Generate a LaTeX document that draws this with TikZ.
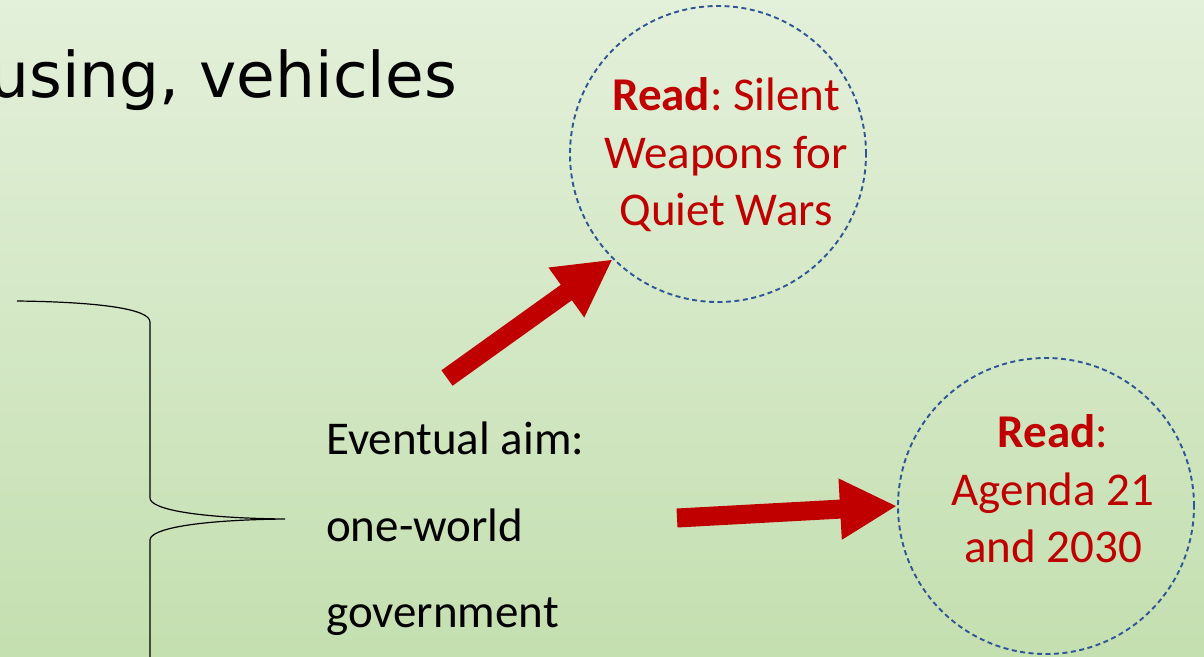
\documentclass[tikz,border=0pt]{standalone}
\usepackage{fontspec}
\usetikzlibrary{arrows.meta}
\newfontfamily\carlito{Carlito}
\newfontfamily\dejavu{DejaVu Sans}
\definecolor{bgtop}{HTML}{E3F0DA}
\definecolor{bgbot}{HTML}{C4DFB0}
\definecolor{darkred}{HTML}{C00000}
\definecolor{dashblue}{HTML}{2F5597}
\frenchspacing
\tikzset{
  readcircle/.style={circle, draw=dashblue, line width=1.9pt, dash pattern=on 5pt off 3.5pt, minimum size=296pt, inner sep=0pt},
  readtext/.style={text=darkred, font=\carlito\fontsize{47}{57.5}\selectfont, align=center, inner sep=0pt},
  bodytext/.style={font=\carlito\fontsize{47}{86.5}\selectfont, align=left, inner sep=0pt},
  blockarrow/.style={draw=darkred, line width=19pt, -{Triangle[width=57pt,length=57pt]}},
  bracestyle/.style={draw=black, line width=1.2pt}
}
\begin{document}
\begin{tikzpicture}[x=1pt,y=-1pt]
\useasboundingbox (0,0) rectangle (1204,656);
\shade[top color=bgtop, bottom color=bgbot] (0,0) rectangle (1204,656);
\clip (0,0) rectangle (1204,656);
% heading fragment
\node[anchor=base east, inner sep=0pt, font=\dejavu\fontsize{63}{70}\selectfont] (head) at (457,97) {using, vehicles};
% circles
\node[readcircle] (c1) at (718,154) {};
\node[readtext] (t1) at (726,155) {\textbf{Read}: Silent\\Weapons for\\Quiet Wars};
\node[readcircle] (c2) at (1046,506) {};
\node[readtext] (t2) at (1053,489) {\textbf{Read}:\\Agenda 21\\and 2030};
% body text
\node[bodytext, anchor=west] (aim) at (326,529) {Eventual aim:\\one-world\\government};
% brace
\coordinate (btop) at (17,301);
\coordinate (btip) at (285,519);
\coordinate (bbot) at (150,660);
\path[bracestyle] (btop) .. controls (100,302) and (150,309) .. (150,322)
  -- (150,498) .. controls (150,509) and (195,518) .. (btip)
  .. controls (195,520) and (150,529) .. (150,540) -- (bbot);
% arrows
\coordinate (a1) at (447,378);
\coordinate (a2) at (677,518);
\draw[blockarrow] (a1) -- (c1.225);
\draw[blockarrow] (a2) -- (c2.west);
\end{tikzpicture}
\end{document}
